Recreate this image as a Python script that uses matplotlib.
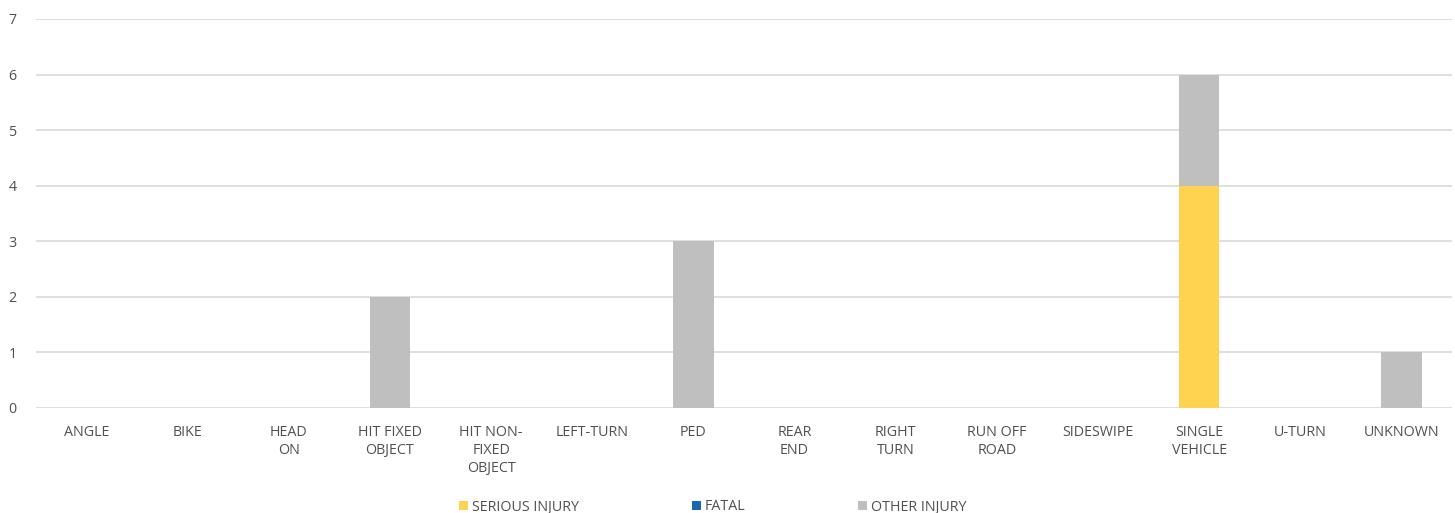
import matplotlib
matplotlib.use("Agg")
import matplotlib.pyplot as plt
import numpy as np

categories = ["ANGLE", "BIKE", "HEAD\nON", "HIT FIXED\nOBJECT", "HIT NON-\nFIXED\nOBJECT",
              "LEFT-TURN", "PED", "REAR\nEND", "RIGHT\nTURN", "RUN OFF\nROAD",
              "SIDESWIPE", "SINGLE\nVEHICLE", "U-TURN", "UNKNOWN"]
serious_injury = [0, 0, 0, 0, 0, 0, 0, 0, 0, 0, 0, 4, 0, 0]
fatal = [0, 0, 0, 0, 0, 0, 0, 0, 0, 0, 0, 0, 0, 0]
other_injury = [0, 0, 0, 2, 0, 0, 3, 0, 0, 0, 0, 2, 0, 1]
y_ticks = [0, 1, 2, 3, 4, 5, 6, 7]

plt.rcParams['font.family'] = ['Open Sans', 'DejaVu Sans']
TXT = "#505050"

fig = plt.figure(figsize=(14.55, 5.13), dpi=100)
ax = fig.add_axes([0.0247, 0.2047, 0.9733, 0.7583])

x = np.arange(len(categories))
s = np.array(serious_injury)
f = np.array(fatal)
o = np.array(other_injury)
w = 0.4
ax.bar(x, s, w, color="#FFD34F", label="SERIOUS INJURY", zorder=3)
ax.bar(x, f, w, bottom=s, color="#1F64B0", label="FATAL", zorder=3)
ax.bar(x, o, w, bottom=s + f, color="#BFBFBF", label="OTHER INJURY", zorder=3)

ax.set_xlim(-0.5, len(categories) - 0.5)
ax.set_ylim(0, 7)
ax.set_yticks(y_ticks)
ax.yaxis.grid(True, color="#D9D9D9", linewidth=1.2, zorder=0)
ax.set_axisbelow(True)
for sp in ax.spines.values():
    sp.set_visible(False)
ax.tick_params(axis='both', length=0, colors=TXT, labelsize=10.3)
ax.tick_params(axis='y', pad=14)
ax.set_xticks(x)
ax.set_xticklabels(categories, linespacing=1.3)
ax.tick_params(axis='x', pad=12)

leg = fig.legend(loc="center", bbox_to_anchor=(0.490, 1 - 507 / 513), ncol=3, frameon=False,
                 fontsize=10.3, handlelength=0.62, handleheight=0.62, handletextpad=0.28,
                 columnspacing=7.9, borderpad=0, borderaxespad=0)
for t in leg.get_texts():
    t.set_color(TXT)

fig.savefig("out.png", dpi=100)
